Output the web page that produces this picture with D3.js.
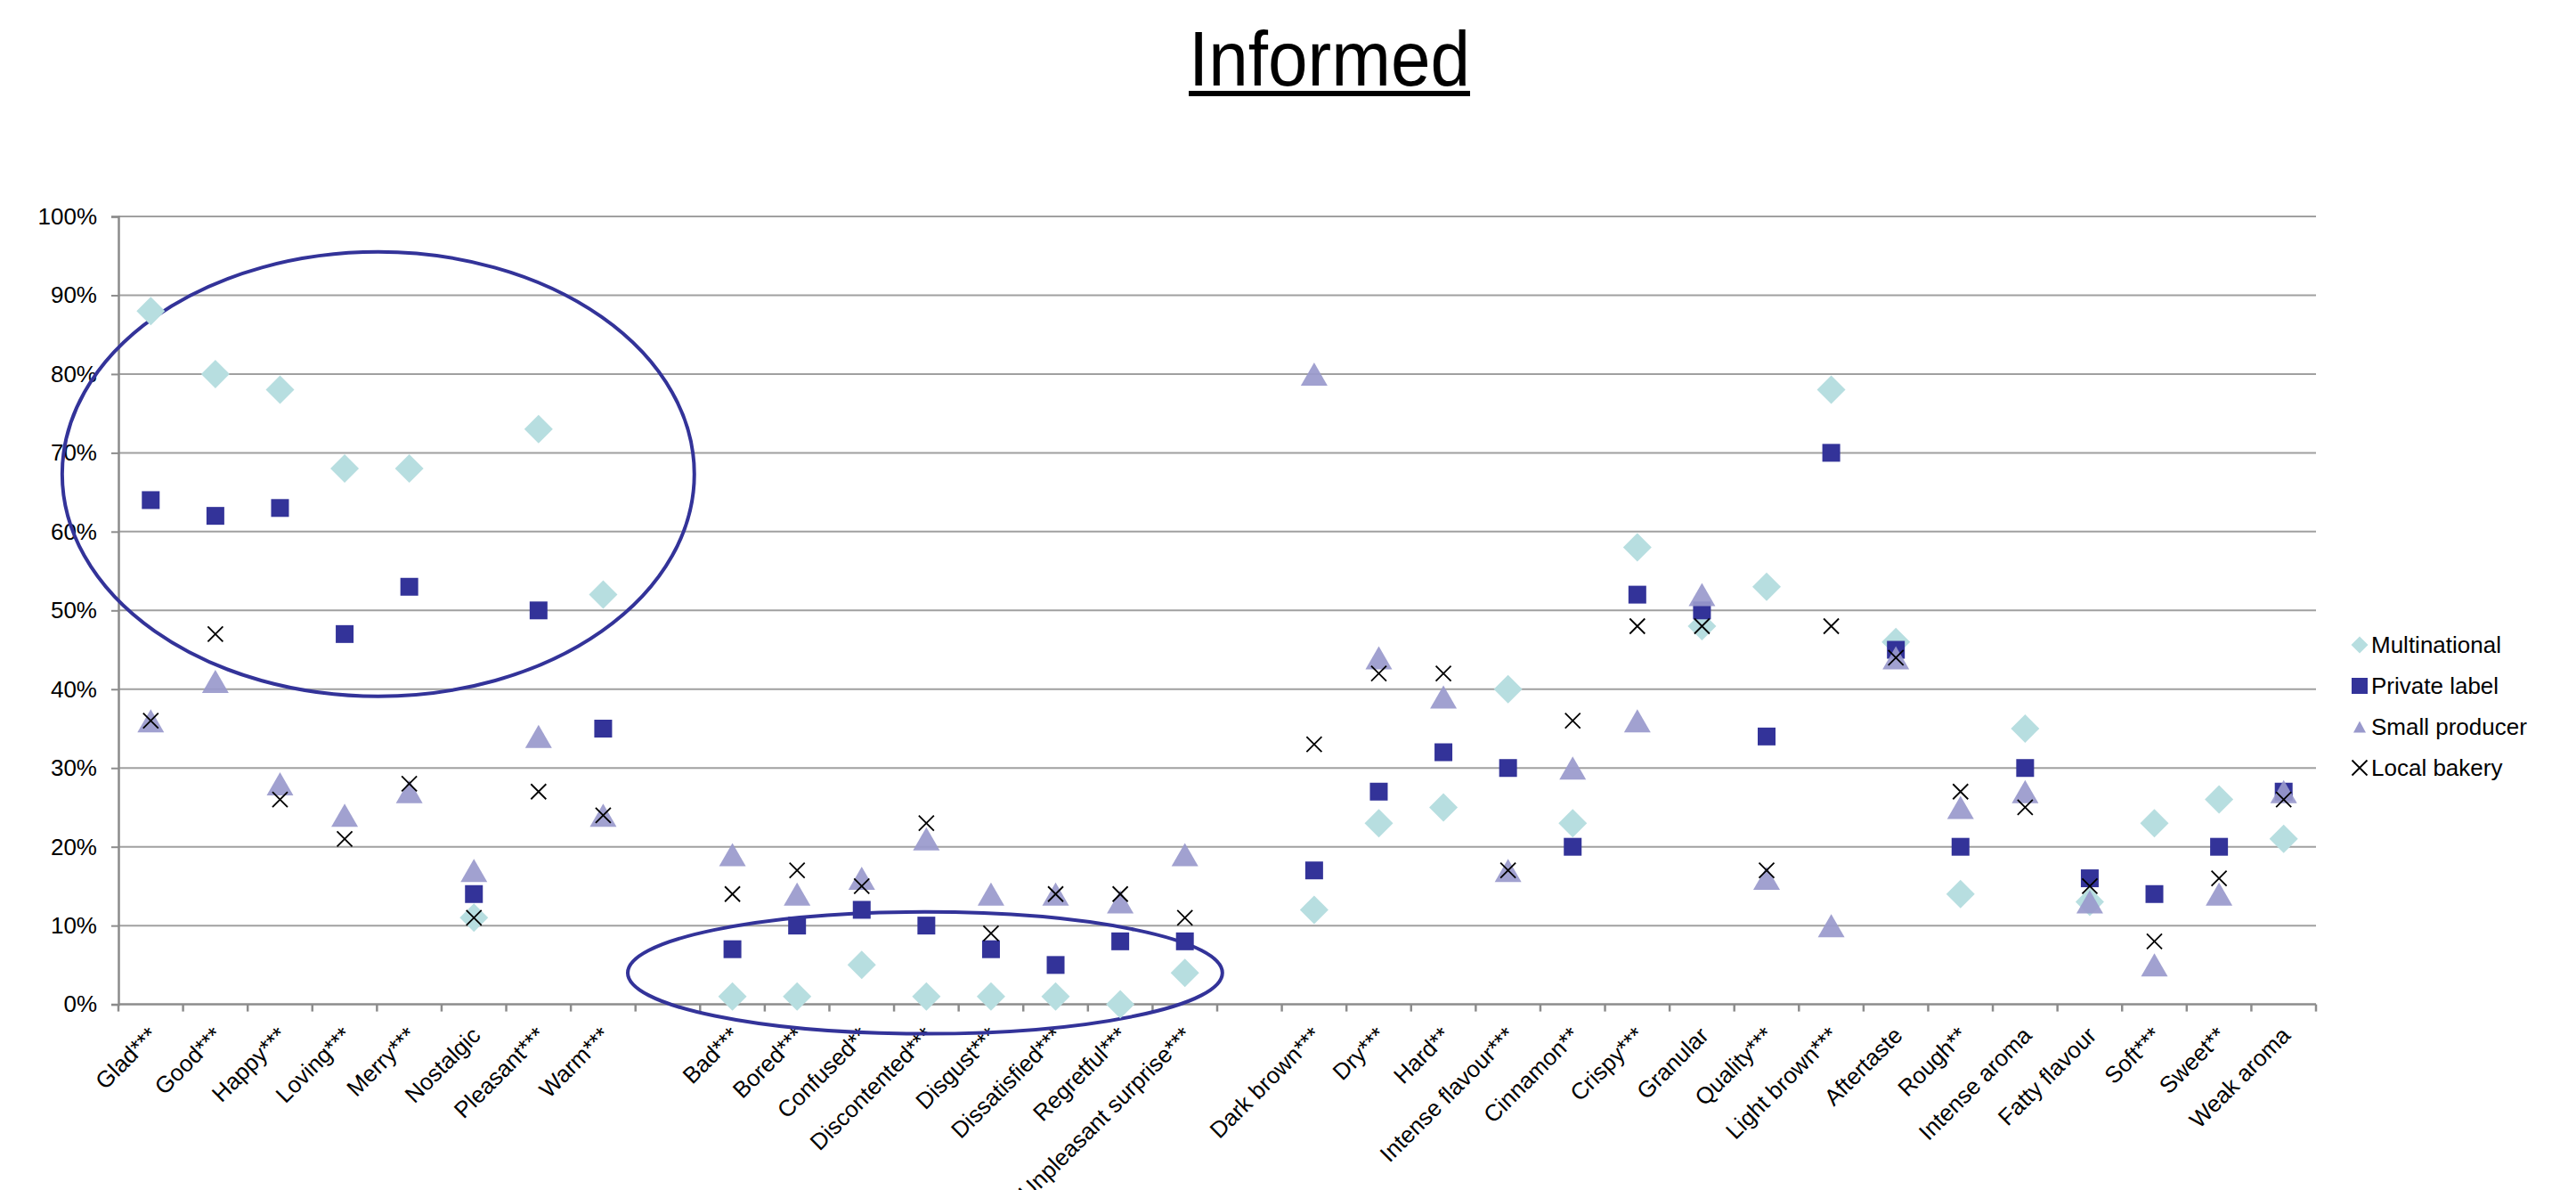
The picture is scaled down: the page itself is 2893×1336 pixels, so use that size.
<!DOCTYPE html>
<html>
<head>
<meta charset="utf-8">
<script src="https://cdn.jsdelivr.net/npm/d3@7"></script>
<style>
  html, body { margin: 0; padding: 0; background: #fff; }
  svg { display: block; font-family: "Liberation Sans", Arial, sans-serif; }
</style>
</head>
<body>
<svg id="chart" width="2893" height="1336"></svg>
<script>
// Category groups (a blank slot separates each group on the axis)
const positiveEmotions = ["Glad***", "Good***", "Happy***", "Loving***", "Merry***", "Nostalgic", "Pleasant***", "Warm***"];
const negativeEmotions = ["Bad***", "Bored***", "Confused**", "Discontented***", "Disgust***", "Dissatisfied***", "Regretful***", "Unpleasant surprise***"];
const attributes = ["Dark brown***", "Dry***", "Hard**", "Intense flavour***", "Cinnamon**", "Crispy***", "Granular", "Quality***", "Light brown***", "Aftertaste", "Rough**", "Intense aroma", "Fatty flavour", "Soft***", "Sweet**", "Weak aroma"];

const categories = [...positiveEmotions, ...negativeEmotions, ...attributes];

// Share of respondents (%) per category, one array per series
const multinational = [88, 80, 78, 68, 68, 11, 73, 52,  1, 1, 5, 1, 1, 1, 0, 4,  12, 23, 25, 40, 23, 58, 48, 53, 78, 46, 14, 35, 13, 23, 26, 21];
const privateLabel  = [64, 62, 63, 47, 53, 14, 50, 35,  7, 10, 12, 10, 7, 5, 8, 8,  17, 27, 32, 30, 20, 52, 50, 34, 70, 45, 20, 30, 16, 14, 20, 27];
const smallProducer = [36, 41, 28, 24, 27, 17, 34, 24,  19, 14, 16, 21, 14, 14, 13, 19,  80, 44, 39, 17, 30, 36, 52, 16, 10, 44, 25, 27, 13, 5, 14, 27];
const localBakery   = [36, 47, 26, 21, 28, 11, 27, 24,  14, 17, 15, 23, 9, 14, 14, 11,  33, 42, 42, 17, 36, 48, 48, 17, 48, 44, 27, 25, 15, 8, 16, 26];

const seriesNames = ["Multinational", "Private label", "Small producer", "Local bakery"];
const yTicks = [0, 10, 20, 30, 40, 50, 60, 70, 80, 90, 100];

// Highlight ellipses, in axis units: centre slot / half-width in slots, centre % / half-height in %
const highlightAreas = [
  { cx: 4.02, rx: 4.89, cy: 67.3, ry: 28.2 },
  { cx: 12.48, rx: 4.6, cy: 4.0, ry: 7.73 }
];

// ---------------------------------------------------------------------------
const svg = d3.select("#chart");
const plot = { left: 133, right: 2601, top: 243, bottom: 1127.6 };
const FONT = 26;

const slots = [...positiveEmotions, "__gap1", ...negativeEmotions, "__gap2", ...attributes];
const x = d3.scaleBand().domain(slots).range([plot.left, plot.right]).paddingInner(0).paddingOuter(0);
const y = d3.scaleLinear().domain([0, 100]).range([plot.bottom, plot.top]);
const slotX = d3.scaleLinear().domain([0, slots.length]).range([plot.left, plot.right]);

const colors = {
  "Multinational": "#b7dee0",
  "Private label": "#333399",
  "Small producer": "#9999cc",
  "Local bakery": "#000000"
};

// Marker path builders (centred on 0,0)
const shapes = {
  diamond: s => { const p = d3.path(); p.moveTo(0, -s/2); p.lineTo(s/2, 0); p.lineTo(0, s/2); p.lineTo(-s/2, 0); p.closePath(); return p.toString(); },
  square: s => { const p = d3.path(); p.rect(-s/2, -s/2, s, s); return p.toString(); },
  triangle: (w, h) => { const p = d3.path(); p.moveTo(0, -h/2); p.lineTo(w/2, h/2); p.lineTo(-w/2, h/2); p.closePath(); return p.toString(); },
  cross: s => { const p = d3.path(); p.moveTo(-s/2, -s/2); p.lineTo(s/2, s/2); p.moveTo(s/2, -s/2); p.lineTo(-s/2, s/2); return p.toString(); }
};

// Title
svg.append("text")
  .attr("x", 1493).attr("y", 96)
  .attr("text-anchor", "middle")
  .attr("font-family", "'Liberation Sans Narrow', 'Liberation Sans', Arial, sans-serif")
  .attr("font-size", 88)
  .attr("textLength", 316)
  .attr("lengthAdjust", "spacingAndGlyphs")
  .attr("fill", "#000")
  .text("Informed");
svg.append("rect")
  .attr("x", 1335).attr("y", 102).attr("width", 316).attr("height", 6)
  .attr("fill", "#000");

// Gridlines
svg.append("g")
  .selectAll("line")
  .data(yTicks.filter(d => d > 0))
  .join("line")
  .attr("x1", plot.left).attr("x2", plot.right)
  .attr("y1", d => y(d)).attr("y2", d => y(d))
  .attr("stroke", "#a0a0a0").attr("stroke-width", 2);

// Y axis
const yAxis = svg.append("g")
  .attr("transform", `translate(${plot.left},0)`)
  .call(d3.axisLeft(y).tickValues(yTicks).tickFormat(d => d + "%").tickSize(8).tickPadding(16));
yAxis.select(".domain").attr("stroke", "#8c8c8c").attr("stroke-width", 2.5);
yAxis.selectAll(".tick line").attr("stroke", "#8c8c8c").attr("stroke-width", 2);
yAxis.selectAll(".tick text")
  .attr("font-size", FONT).attr("fill", "#000")
  .attr("font-family", "'Liberation Sans', Arial, sans-serif");

// X axis: baseline with ticks on every slot boundary
const xAxis = svg.append("g");
xAxis.append("line")
  .attr("x1", plot.left).attr("x2", plot.right)
  .attr("y1", plot.bottom).attr("y2", plot.bottom)
  .attr("stroke", "#8c8c8c").attr("stroke-width", 2.5);
xAxis.selectAll("line.tick")
  .data(d3.range(slots.length + 1))
  .join("line")
  .attr("class", "tick")
  .attr("x1", d => slotX(d)).attr("x2", d => slotX(d))
  .attr("y1", plot.bottom).attr("y2", plot.bottom + 8)
  .attr("stroke", "#8c8c8c").attr("stroke-width", 2.5);

// Category labels, rotated
svg.append("g")
  .selectAll("text")
  .data(categories)
  .join("text")
  .attr("transform", d => `translate(${x(d) + x.bandwidth() / 2 + 9},${plot.bottom + 36.5}) rotate(-45)`)
  .attr("text-anchor", "end")
  .attr("font-size", FONT)
  .attr("fill", "#000")
  .text(d => d);

// Highlight ellipses
svg.append("g")
  .selectAll("ellipse")
  .data(highlightAreas)
  .join("ellipse")
  .attr("cx", d => slotX(d.cx))
  .attr("cy", d => y(d.cy))
  .attr("rx", d => slotX(d.rx) - slotX(0))
  .attr("ry", d => y(0) - y(d.ry))
  .attr("fill", "none")
  .attr("stroke", "#333399")
  .attr("stroke-width", 4);

// Series markers
const cx = c => x(c) + x.bandwidth() / 2;
const gMarks = svg.append("g");

gMarks.append("g").selectAll("path")
  .data(categories.map((c, i) => ({ c, v: multinational[i] })))
  .join("path")
  .attr("d", shapes.diamond(32))
  .attr("transform", d => `translate(${cx(d.c)},${y(d.v)})`)
  .attr("fill", colors["Multinational"]);

gMarks.append("g").selectAll("path")
  .data(categories.map((c, i) => ({ c, v: privateLabel[i] })))
  .join("path")
  .attr("d", shapes.square(20))
  .attr("transform", d => `translate(${cx(d.c)},${y(d.v)})`)
  .attr("fill", colors["Private label"]);

gMarks.append("g").selectAll("path")
  .data(categories.map((c, i) => ({ c, v: smallProducer[i] })))
  .join("path")
  .attr("d", shapes.triangle(30, 26))
  .attr("transform", d => `translate(${cx(d.c)},${y(d.v)})`)
  .attr("fill", colors["Small producer"])
  .attr("fill-opacity", 0.92);

gMarks.append("g").selectAll("path")
  .data(categories.map((c, i) => ({ c, v: localBakery[i] })))
  .join("path")
  .attr("d", shapes.cross(17))
  .attr("transform", d => `translate(${cx(d.c)},${y(d.v)})`)
  .attr("fill", "none")
  .attr("stroke", colors["Local bakery"])
  .attr("stroke-width", 1.8);

// Legend
const legend = svg.append("g").attr("transform", "translate(2650,724)");
const legendMarks = [
  g => g.append("path").attr("d", shapes.diamond(19)).attr("fill", colors["Multinational"]),
  g => g.append("path").attr("d", shapes.square(18)).attr("fill", colors["Private label"]),
  g => g.append("path").attr("d", shapes.triangle(14, 13)).attr("fill", colors["Small producer"]),
  g => g.append("path").attr("d", shapes.cross(17)).attr("fill", "none").attr("stroke", "#000").attr("stroke-width", 1.8)
];
seriesNames.forEach((name, i) => {
  const row = legend.append("g").attr("transform", `translate(0,${i * 46})`);
  legendMarks[i](row);
  row.append("text")
    .attr("x", 13).attr("y", 9)
    .attr("font-size", FONT)
    .attr("fill", "#000")
    .text(name);
});
</script>
</body>
</html>
